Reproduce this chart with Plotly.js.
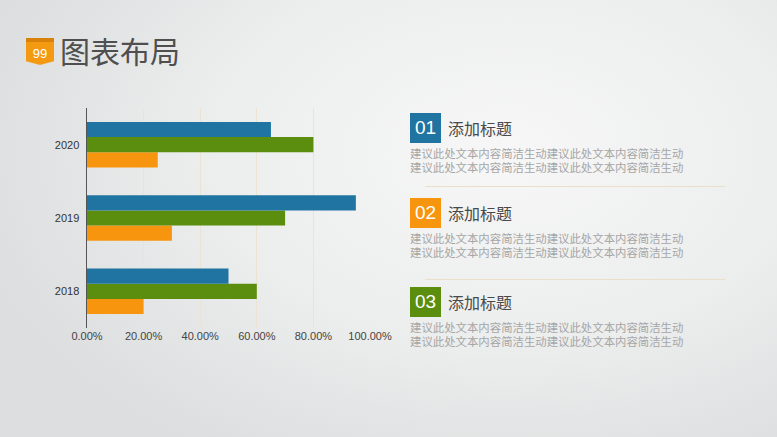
<!DOCTYPE html>
<html>
<head>
<meta charset="utf-8">
<script src="https://cdn.plot.ly/plotly-3.0.1.min.js"></script>
<style>
html,body{margin:0;padding:0;width:777px;height:437px;overflow:hidden;}
body{background:radial-gradient(ellipse 70% 80% at 65% 35%, #f7f7f7 0%, #eceded 55%, #dcdedf 100%);font-family:"Noto Sans CJK SC","Noto Sans",sans-serif;position:relative;}
#chart{position:absolute;left:0;top:0;width:777px;height:437px;}
.abs{position:absolute;white-space:nowrap;}
.badge{left:26px;top:38px;width:28px;height:27px;background:linear-gradient(#d8820b 0,#d8820b 16%,#f39a12 16%,#f39a12 100%);clip-path:polygon(0 0,100% 0,100% 86%,50% 100%,0 86%);color:#fff;font-family:"Liberation Sans",sans-serif;font-size:13px;line-height:31px;text-align:center;}
.title{left:60px;top:30px;font-size:30px;color:#4f4f4f;line-height:40px;}
.num{width:31px;height:30px;color:#fff;font-family:"Liberation Sans",sans-serif;font-size:19px;line-height:30px;text-align:center;}
.head{font-size:16px;color:#4a4a4a;line-height:20px;}
.body{font-size:11.4px;color:#a6a6a6;line-height:13px;height:13px;overflow:visible;}
.sep{height:1px;background:#eadfc8;}
</style>
</head>
<body>
<div id="chart"></div>
<div class="abs badge">99</div>
<div class="abs title">图表布局</div>

<div id="panel"></div>

<script>
// ---- data ----
var categories = ['2018', '2019', '2020'];
var seriesBlue = [0.50, 0.95, 0.65];
var seriesGreen = [0.60, 0.70, 0.80];
var seriesOrange = [0.20, 0.30, 0.25];
var xTickValues = [0, 0.2, 0.4, 0.6, 0.8, 1.0];
var xTickLabels = ['0.00%', '20.00%', '40.00%', '60.00%', '80.00%', '100.00%'];
var itemNumbers = ['01', '02', '03'];
var itemTitles = ['添加标题', '添加标题', '添加标题'];
var itemBody = '建议此处文本内容简洁生动建议此处文本内容简洁生动';

var colors = {blue: '#1f74a1', green: '#5b8e0f', orange: '#f7960e'};

var traces = [
  {type: 'bar', orientation: 'h', y: categories, x: seriesOrange, marker: {color: colors.orange}, name: 'S3', hoverinfo: 'x'},
  {type: 'bar', orientation: 'h', y: categories, x: seriesGreen, marker: {color: colors.green}, name: 'S2', hoverinfo: 'x'},
  {type: 'bar', orientation: 'h', y: categories, x: seriesBlue, marker: {color: colors.blue}, name: 'S1', hoverinfo: 'x'}
];

var layout = {
  width: 777, height: 437,
  margin: {l: 87, r: 407, t: 108, b: 109, pad: 0},
  paper_bgcolor: 'rgba(0,0,0,0)',
  plot_bgcolor: 'rgba(0,0,0,0)',
  showlegend: false,
  barmode: 'group',
  bargap: 0.38,
  bargroupgap: 0,
  font: {family: 'Liberation Sans, Arial, sans-serif', size: 11, color: '#444'},
  xaxis: {
    range: [0, 1], tickvals: xTickValues, ticktext: xTickLabels,
    showgrid: true, gridcolor: '#ece3d2', gridwidth: 1,
    zeroline: false, showline: false, ticks: '',
    tickfont: {size: 11, color: '#444'}, fixedrange: true
  },
  yaxis: {
    type: 'category', categoryarray: categories, range: [-0.5, 2.5],
    showgrid: false, zeroline: false, showline: true, linecolor: '#555', linewidth: 1.5,
    ticks: '', ticklabelstandoff: 4,
    tickfont: {size: 11, color: '#333'}, fixedrange: true
  }
};

Plotly.newPlot('chart', traces, layout, {displayModeBar: false, staticPlot: true});

// ---- right panel ----
var numColors = [colors.blue, colors.orange, colors.green];
var tops = [113, 198, 287];
var panel = document.getElementById('panel');
var html = '';
for (var i = 0; i < itemNumbers.length; i++) {
  var t = tops[i];
  html += '<div class="abs num" style="left:410px;top:' + t + 'px;background:' + numColors[i] + '">' + itemNumbers[i] + '</div>';
  html += '<div class="abs head" style="left:448px;top:' + (t + 5) + 'px">' + itemTitles[i] + '</div>';
  html += '<div class="abs body" style="left:410px;top:' + (t + 34) + 'px">' + itemBody + '</div>';
  html += '<div class="abs body" style="left:410px;top:' + (t + 47.5) + 'px">' + itemBody + '</div>';
  if (i < itemNumbers.length - 1) {
    html += '<div class="abs sep" style="left:425px;width:300px;top:' + (i === 0 ? 186 : 279) + 'px"></div>';
  }
}
panel.innerHTML = html;
</script>
</body>
</html>
